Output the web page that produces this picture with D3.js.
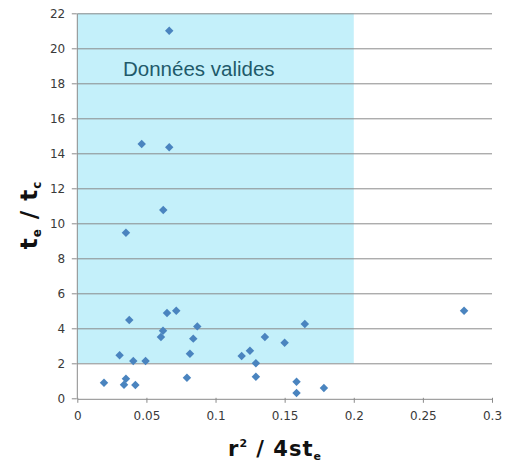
<!DOCTYPE html>
<html><head><meta charset="utf-8">
<script src="https://cdn.jsdelivr.net/npm/d3@7"></script>
<style>body{margin:0;background:#fff}svg{display:block}</style>
</head><body>
<svg id="c" width="505" height="468"></svg>
<script>
const xValues = [0.0193,0.0306,0.0352,0.0338,0.0352,0.0376,0.0405,0.0420,0.0494,0.0605,0.0620,0.0649,0.0716,0.0793,0.0815,0.0839,0.0868,0.1189,0.1249,0.1292,0.1292,0.1357,0.1500,0.1646,0.1586,0.1586,0.1784,0.2798,0.0665,0.0466,0.0665,0.0622];
const yValues = [0.89,2.46,1.12,0.78,9.46,4.47,2.13,0.76,2.13,3.50,3.86,4.87,5.00,1.18,2.55,3.41,4.11,2.42,2.72,2.00,1.23,3.50,3.18,4.25,0.95,0.30,0.59,5.00,21.0,14.53,14.34,10.76];
const xTicks = [0,0.05,0.1,0.15,0.2,0.25,0.3];
const xTickLabels = ["0","0.05","0.1","0.15","0.2","0.25","0.3"];
const yTicks = [0,2,4,6,8,10,12,14,16,18,20,22];
const validRegion = {x0:0, x1:0.2, y0:2, y1:22};
const regionLabel = "Données valides";

const svg = d3.select("#c");
const x = d3.scaleLinear().domain([0,0.3]).range([77.3,492]);
const y = d3.scaleLinear().domain([0,22]).range([398.3,13.3]);

// shaded region
svg.append("rect")
  .attr("x", x(validRegion.x0)).attr("y", y(validRegion.y1))
  .attr("width", x(validRegion.x1)-x(validRegion.x0))
  .attr("height", y(validRegion.y0)-y(validRegion.y1))
  .attr("fill", "#c4f0fa");

// gridlines
svg.append("g").selectAll("line").data(yTicks.filter(d=>d>0)).join("line")
  .attr("x1", x(0)).attr("x2", x(0.3))
  .attr("y1", d=>y(d)+0.5).attr("y2", d=>y(d)+0.5)
  .attr("stroke", "#8a8a8a").attr("stroke-width", 1);

// axes
const xAxis = d3.axisBottom(x).tickValues(xTicks).tickFormat((d,i)=>xTickLabels[i]).tickSize(5).tickSizeOuter(0);
const gx = svg.append("g").attr("transform", `translate(0,${y(0)+0.5})`).call(xAxis);
gx.select(".domain").attr("stroke", "#8a8a8a");
gx.selectAll(".tick line").attr("stroke", "#8a8a8a").attr("transform","translate(0,-1)");
gx.selectAll(".tick text").attr("font-family","DejaVu Sans, Verdana, sans-serif").attr("font-size", 12).attr("fill","#3a3a3a").attr("dy","1.1em");

const yAxis = d3.axisLeft(y).tickValues(yTicks).tickSize(5).tickSizeOuter(0);
const gy = svg.append("g").attr("transform", `translate(${x(0)-0.5},0)`).call(yAxis);
gy.select(".domain").attr("stroke", "#8a8a8a");
gy.selectAll(".tick line").attr("stroke", "#8a8a8a");
gy.selectAll(".tick text").attr("font-family","DejaVu Sans, Verdana, sans-serif").attr("font-size", 12).attr("fill","#3a3a3a").attr("dx","-0.3em");

// region label
svg.append("text").attr("x", 123).attr("y", 76)
  .attr("font-family","Liberation Sans, Arial, sans-serif").attr("font-size", 20.5)
  .attr("fill","#1f5a6a").text(regionLabel);

// points
const sym = d3.symbol().type(d3.symbolSquare).size(36);
svg.append("g").selectAll("path").data(xValues.map((v,i)=>[v,yValues[i]])).join("path")
  .attr("d", sym)
  .attr("transform", d=>`translate(${x(d[0])},${y(d[1])}) rotate(45)`)
  .attr("fill", "#4a84bf");

// axis titles
const xt = svg.append("text").attr("x", 275).attr("y", 456).attr("text-anchor","middle")
  .attr("font-family","DejaVu Sans, Verdana, sans-serif").attr("font-weight","bold").attr("font-size", 21)
  .attr("letter-spacing", 1).attr("fill","#111");
xt.append("tspan").text("r");
xt.append("tspan").attr("font-size", 11).attr("dy", -9).text("2");
xt.append("tspan").attr("dy", 9).text("\u00a0/\u00a04st");
xt.append("tspan").attr("font-size", 11).attr("dy", 4).text("e");

const yt = svg.append("text").attr("transform","translate(37,215) rotate(-90)").attr("text-anchor","middle")
  .attr("font-family","DejaVu Sans, Verdana, sans-serif").attr("font-weight","bold").attr("font-size", 23)
  .attr("letter-spacing", 1).attr("fill","#111");
yt.append("tspan").text("t");
yt.append("tspan").attr("font-size", 12).attr("dy", 4).text("e");
yt.append("tspan").attr("dy", -4).text("\u00a0/\u00a0t");
yt.append("tspan").attr("font-size", 12).attr("dy", 4).text("c");
</script>
</body></html>
